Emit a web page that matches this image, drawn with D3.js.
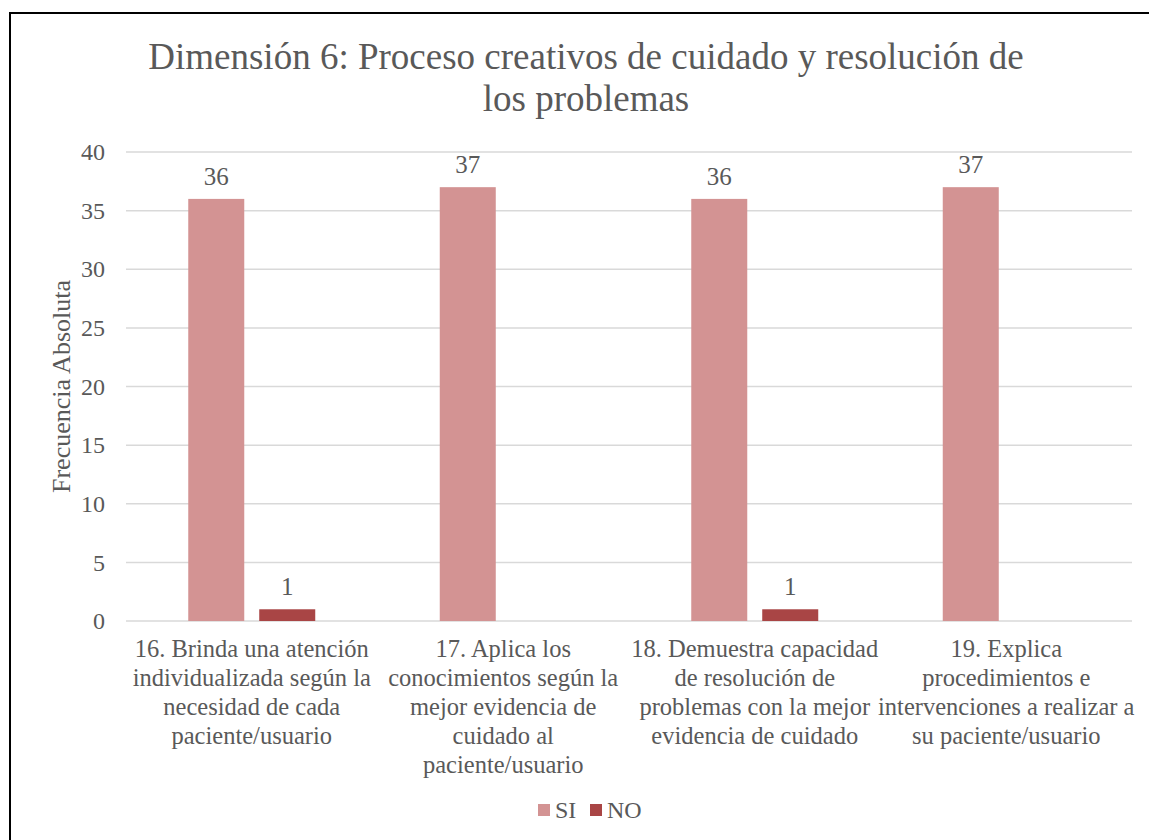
<!DOCTYPE html>
<html>
<head>
<meta charset="utf-8">
<script src="https://cdn.jsdelivr.net/npm/d3@7"></script>
<style>
  html, body { margin: 0; padding: 0; background: #fff; }
  svg { display: block; }
  text { font-family: "Liberation Serif", "Times New Roman", serif; fill: #595959; }
</style>
</head>
<body>
<svg id="chart" width="1149" height="840"></svg>
<script>
// Chart data
const titleLines = ["Dimensión 6: Proceso creativos de cuidado y resolución de", "los problemas"];
const categories = [
  ["16. Brinda una atención", "individualizada según la", "necesidad de cada", "paciente/usuario"],
  ["17. Aplica los", "conocimientos según la", "mejor evidencia de", "cuidado al", "paciente/usuario"],
  ["18. Demuestra capacidad", "de resolución de", "problemas con la mejor", "evidencia de cuidado"],
  ["19. Explica", "procedimientos e", "intervenciones a realizar a", "su paciente/usuario"]
];
const seriesNames = ["SI", "NO"];
const siValues = [36, 37, 36, 37];
const noValues = [1, null, 1, null];
const yTicks = [0, 5, 10, 15, 20, 25, 30, 35, 40];
const yLabel = "Frecuencia Absoluta";
const colors = { SI: "#d39393", NO: "#a94545" };

const svg = d3.select("#chart");

// Outer frame
svg.append("rect")
  .attr("x", 10).attr("y", 13)
  .attr("width", 1300).attr("height", 1000)
  .attr("fill", "none").attr("stroke", "#000").attr("stroke-width", 2);

const plot = { left: 126, right: 1132, top: 152, bottom: 621 };

const x0 = d3.scaleBand()
  .domain(d3.range(categories.length))
  .range([plot.left, plot.right])
  .padding(0);

const x1 = d3.scaleBand()
  .domain(seriesNames)
  .range([0, x0.bandwidth()])
  .paddingInner(0.211)
  .paddingOuter(0.877);

const y = d3.scaleLinear().domain([0, 40]).range([plot.bottom, plot.top]);

// Title
const title = svg.append("text")
  .attr("text-anchor", "middle")
  .attr("font-size", 37);
titleLines.forEach((line, i) => {
  title.append("tspan").attr("x", 586).attr("y", 69 + i * 42).text(line);
});

// Gridlines
svg.append("g")
  .selectAll("line")
  .data(yTicks)
  .join("line")
  .attr("x1", plot.left).attr("x2", plot.right)
  .attr("y1", d => y(d)).attr("y2", d => y(d))
  .attr("stroke", "#d9d9d9").attr("stroke-width", 1.5);

// Y axis labels
const yAxis = svg.append("g")
  .attr("transform", `translate(${plot.left - 21},0)`)
  .call(d3.axisLeft(y).tickValues(yTicks).tickSize(0).tickPadding(0));
yAxis.select(".domain").remove();
yAxis.selectAll("text")
  .attr("font-size", 24)
  .attr("font-family", "Liberation Serif, serif")
  .attr("fill", "#595959");

// Y axis title
svg.append("text")
  .attr("transform", `translate(70,${(plot.top + plot.bottom) / 2}) rotate(-90)`)
  .attr("text-anchor", "middle")
  .attr("font-size", 26)
  .text(yLabel);

// Bars
const rows = categories.map((c, i) => ({ i, SI: siValues[i], NO: noValues[i] }));
const groups = svg.append("g")
  .selectAll("g")
  .data(rows)
  .join("g")
  .attr("transform", d => `translate(${x0(d.i)},0)`);

groups.selectAll("rect")
  .data(d => seriesNames.filter(s => d[s] != null).map(s => ({ s, v: d[s] })))
  .join("rect")
  .attr("x", d => x1(d.s))
  .attr("width", x1.bandwidth())
  .attr("y", d => y(d.v))
  .attr("height", d => y(0) - y(d.v))
  .attr("fill", d => colors[d.s]);

groups.selectAll("text.value")
  .data(d => seriesNames.filter(s => d[s] != null).map(s => ({ s, v: d[s] })))
  .join("text")
  .attr("class", "value")
  .attr("x", d => x1(d.s) + x1.bandwidth() / 2)
  .attr("y", d => y(d.v) - 14)
  .attr("text-anchor", "middle")
  .attr("font-size", 25)
  .text(d => d.v);

// Category labels
svg.append("g")
  .selectAll("text")
  .data(categories)
  .join("text")
  .attr("text-anchor", "middle")
  .attr("font-size", 24.5)
  .each(function (lines, i) {
    const t = d3.select(this);
    lines.forEach((line, k) => {
      t.append("tspan")
        .attr("x", x0(i) + x0.bandwidth() / 2)
        .attr("y", 657 + k * 29)
        .text(line);
    });
  });

// Legend
const legend = svg.append("g");
const legendItems = [
  { s: "SI", x: 538 },
  { s: "NO", x: 590 }
];
legendItems.forEach(item => {
  legend.append("rect")
    .attr("x", item.x).attr("y", 804)
    .attr("width", 12).attr("height", 12)
    .attr("fill", colors[item.s]);
  legend.append("text")
    .attr("x", item.x + 17).attr("y", 818)
    .attr("font-size", 24)
    .text(item.s);
});
</script>
</body>
</html>
